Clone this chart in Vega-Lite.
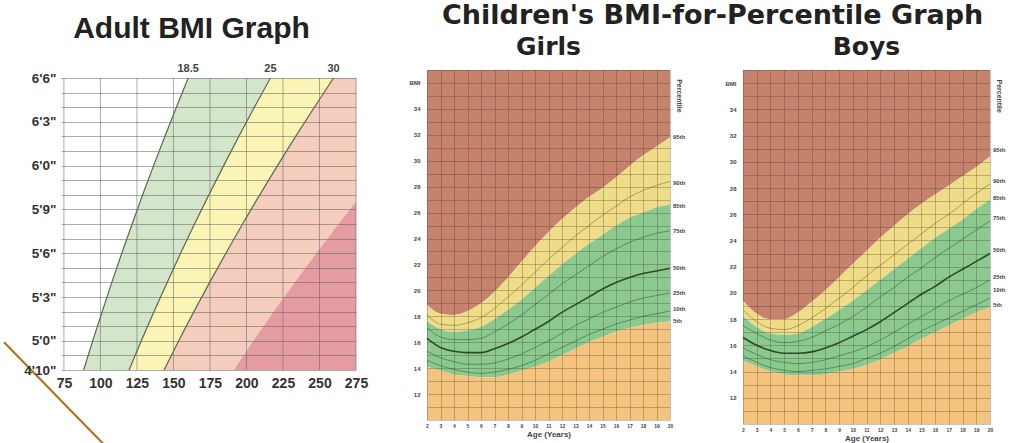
{
  "$schema": "https://vega.github.io/schema/vega-lite/v6.json",
  "background": "white",
  "padding": {"left": 0, "top": 2, "right": 0, "bottom": 0},
  "config": {
    "view": {"stroke": null},
    "axis": {"labelFont": "Liberation Sans", "titleFont": "Liberation Sans"},
    "title": {"color": "#222"}
  },
  "datasets": {
    "adult": [
      {"h": 58, "b185": 88.5, "b25": 119.6, "b30": 143.6, "b40": 191.4},
      {"h": 60, "b185": 94.7, "b25": 128.0, "b30": 153.6, "b40": 204.8},
      {"h": 62, "b185": 101.2, "b25": 136.7, "b30": 164.0, "b40": 218.7},
      {"h": 64, "b185": 107.8, "b25": 145.7, "b30": 174.8, "b40": 233.1},
      {"h": 66, "b185": 114.6, "b25": 154.9, "b30": 185.9, "b40": 247.9},
      {"h": 68, "b185": 121.7, "b25": 164.4, "b30": 197.3, "b40": 263.1},
      {"h": 69.5, "b185": 127.1, "b25": 171.8, "b30": 206.1, "b40": 275},
      {"h": 70, "b185": 128.9, "b25": 174.3, "b30": 209.1, "b40": 275},
      {"h": 72, "b185": 136.4, "b25": 184.4, "b30": 221.2, "b40": 275},
      {"h": 74, "b185": 144.1, "b25": 194.7, "b30": 233.7, "b40": 275},
      {"h": 76, "b185": 152.0, "b25": 205.4, "b30": 246.5, "b40": 275},
      {"h": 78, "b185": 160.1, "b25": 216.4, "b30": 259.6, "b40": 275}
    ],
    "girls": [
      {"age": 2, "p5": 14.1, "p10": 14.6, "p25": 15.3, "p50": 16.3, "p75": 17.1, "p85": 17.6, "p90": 18.1, "p95": 18.9},
      {"age": 3, "p5": 13.8, "p10": 14.2, "p25": 14.8, "p50": 15.6, "p75": 16.4, "p85": 17.0, "p90": 17.4, "p95": 18.2},
      {"age": 4, "p5": 13.5, "p10": 13.9, "p25": 14.5, "p50": 15.3, "p75": 16.2, "p85": 16.8, "p90": 17.3, "p95": 18.1},
      {"age": 5, "p5": 13.4, "p10": 13.7, "p25": 14.3, "p50": 15.2, "p75": 16.2, "p85": 16.9, "p90": 17.5, "p95": 18.4},
      {"age": 6, "p5": 13.3, "p10": 13.6, "p25": 14.3, "p50": 15.2, "p75": 16.3, "p85": 17.2, "p90": 17.9, "p95": 19.0},
      {"age": 7, "p5": 13.3, "p10": 13.7, "p25": 14.4, "p50": 15.5, "p75": 16.8, "p85": 17.8, "p90": 18.6, "p95": 19.9},
      {"age": 8, "p5": 13.5, "p10": 13.9, "p25": 14.7, "p50": 15.9, "p75": 17.4, "p85": 18.5, "p90": 19.5, "p95": 21.0},
      {"age": 9, "p5": 13.8, "p10": 14.2, "p25": 15.1, "p50": 16.4, "p75": 18.1, "p85": 19.3, "p90": 20.4, "p95": 22.2},
      {"age": 10, "p5": 14.1, "p10": 14.6, "p25": 15.6, "p50": 17.0, "p75": 18.9, "p85": 20.2, "p90": 21.4, "p95": 23.4},
      {"age": 11, "p5": 14.5, "p10": 15.1, "p25": 16.1, "p50": 17.6, "p75": 19.7, "p85": 21.1, "p90": 22.4, "p95": 24.5},
      {"age": 12, "p5": 15.0, "p10": 15.6, "p25": 16.7, "p50": 18.3, "p75": 20.5, "p85": 22.0, "p90": 23.3, "p95": 25.5},
      {"age": 13, "p5": 15.5, "p10": 16.1, "p25": 17.3, "p50": 18.9, "p75": 21.2, "p85": 22.8, "p90": 24.2, "p95": 26.4},
      {"age": 14, "p5": 16.0, "p10": 16.6, "p25": 17.8, "p50": 19.5, "p75": 21.9, "p85": 23.6, "p90": 25.0, "p95": 27.2},
      {"age": 15, "p5": 16.4, "p10": 17.0, "p25": 18.3, "p50": 20.1, "p75": 22.6, "p85": 24.3, "p90": 25.8, "p95": 27.9},
      {"age": 16, "p5": 16.8, "p10": 17.4, "p25": 18.7, "p50": 20.6, "p75": 23.2, "p85": 25.0, "p90": 26.5, "p95": 28.7},
      {"age": 17, "p5": 17.1, "p10": 17.7, "p25": 19.1, "p50": 21.0, "p75": 23.7, "p85": 25.6, "p90": 27.2, "p95": 29.6},
      {"age": 18, "p5": 17.3, "p10": 18.0, "p25": 19.4, "p50": 21.3, "p75": 24.1, "p85": 26.0, "p90": 27.7, "p95": 30.4},
      {"age": 19, "p5": 17.5, "p10": 18.2, "p25": 19.6, "p50": 21.5, "p75": 24.4, "p85": 26.4, "p90": 28.1, "p95": 31.1},
      {"age": 20, "p5": 17.6, "p10": 18.4, "p25": 19.8, "p50": 21.7, "p75": 24.6, "p85": 26.6, "p90": 28.4, "p95": 31.8}
    ],
    "boys": [
      {"age": 2, "p5": 14.8, "p10": 15.2, "p25": 15.8, "p50": 16.6, "p75": 17.5, "p85": 18.2, "p90": 18.7, "p95": 19.4},
      {"age": 3, "p5": 14.4, "p10": 14.7, "p25": 15.3, "p50": 16.0, "p75": 16.9, "p85": 17.4, "p90": 17.8, "p95": 18.4},
      {"age": 4, "p5": 14.0, "p10": 14.3, "p25": 14.9, "p50": 15.6, "p75": 16.4, "p85": 16.9, "p90": 17.3, "p95": 18.0},
      {"age": 5, "p5": 13.8, "p10": 14.1, "p25": 14.7, "p50": 15.4, "p75": 16.2, "p85": 16.8, "p90": 17.2, "p95": 18.0},
      {"age": 6, "p5": 13.7, "p10": 14.0, "p25": 14.6, "p50": 15.4, "p75": 16.3, "p85": 16.9, "p90": 17.5, "p95": 18.5},
      {"age": 7, "p5": 13.7, "p10": 14.1, "p25": 14.7, "p50": 15.5, "p75": 16.6, "p85": 17.4, "p90": 18.1, "p95": 19.3},
      {"age": 8, "p5": 13.8, "p10": 14.2, "p25": 14.9, "p50": 15.8, "p75": 17.1, "p85": 18.0, "p90": 18.8, "p95": 20.2},
      {"age": 9, "p5": 14.0, "p10": 14.4, "p25": 15.2, "p50": 16.2, "p75": 17.6, "p85": 18.7, "p90": 19.6, "p95": 21.2},
      {"age": 10, "p5": 14.2, "p10": 14.6, "p25": 15.5, "p50": 16.7, "p75": 18.2, "p85": 19.4, "p90": 20.4, "p95": 22.2},
      {"age": 11, "p5": 14.5, "p10": 15.0, "p25": 15.9, "p50": 17.2, "p75": 18.9, "p85": 20.2, "p90": 21.3, "p95": 23.2},
      {"age": 12, "p5": 14.9, "p10": 15.4, "p25": 16.4, "p50": 17.8, "p75": 19.7, "p85": 21.0, "p90": 22.1, "p95": 24.2},
      {"age": 13, "p5": 15.4, "p10": 15.9, "p25": 17.0, "p50": 18.5, "p75": 20.4, "p85": 21.8, "p90": 22.9, "p95": 25.1},
      {"age": 14, "p5": 15.9, "p10": 16.5, "p25": 17.6, "p50": 19.2, "p75": 21.2, "p85": 22.6, "p90": 23.7, "p95": 26.0},
      {"age": 15, "p5": 16.5, "p10": 17.1, "p25": 18.2, "p50": 19.9, "p75": 21.9, "p85": 23.4, "p90": 24.5, "p95": 26.8},
      {"age": 16, "p5": 17.0, "p10": 17.6, "p25": 18.8, "p50": 20.5, "p75": 22.7, "p85": 24.2, "p90": 25.3, "p95": 27.5},
      {"age": 17, "p5": 17.5, "p10": 18.1, "p25": 19.4, "p50": 21.2, "p75": 23.4, "p85": 24.9, "p90": 26.0, "p95": 28.2},
      {"age": 18, "p5": 18.0, "p10": 18.6, "p25": 19.9, "p50": 21.8, "p75": 24.1, "p85": 25.6, "p90": 26.8, "p95": 28.9},
      {"age": 19, "p5": 18.5, "p10": 19.1, "p25": 20.4, "p50": 22.4, "p75": 24.8, "p85": 26.4, "p90": 27.6, "p95": 29.6},
      {"age": 20, "p5": 18.9, "p10": 19.6, "p25": 21.0, "p50": 23.0, "p75": 25.5, "p85": 27.1, "p90": 28.3, "p95": 30.4}
    ]
  },
  "spacing": 41,
  "hconcat": [
    {
      "title": {"text": "Adult BMI Graph", "font": "Liberation Sans", "fontSize": 30, "fontWeight": "bold", "offset": 19, "dx": -17},
      "width": 295,
      "height": 300,
      "data": {"name": "adult"},
      "layer": [
        {
          "mark": {"type": "area", "orient": "horizontal", "color": "#d3e6c9"},
          "encoding": {
            "y": {"field": "h", "type": "quantitative", "scale": {"domain": [58, 78.55], "nice": false, "zero": false},
              "axis": {"values": [58, 59, 60, 61, 62, 63, 64, 65, 66, 67, 68, 69, 70, 71, 72, 73, 74, 75, 76, 77, 78], "labelExpr": "indexof([58,60,63,66,69,72,75,78], datum.value) >= 0 ? floor(datum.value / 12) + \"'\" + (datum.value % 12) + '\"' : ''", "title": null, "labelFontSize": 13.5, "labelFontWeight": "bold", "labelColor": "#333", "labelPadding": 5, "ticks": false, "domain": false, "gridColor": "#666", "gridOpacity": 0.55, "zindex": 1, "labelOverlap": false, "labelFlush": false}},
            "x": {"field": "b185", "type": "quantitative", "scale": {"domain": [73, 275], "nice": false, "zero": false},
              "axis": {"values": [75, 100, 125, 150, 175, 200, 225, 250, 275], "title": null, "labelFontSize": 14, "labelFontWeight": "bold", "labelColor": "#333", "labelPadding": 6, "ticks": false, "domain": false, "grid": false, "labelOverlap": false, "labelFlush": false}},
            "x2": {"field": "b25"}
          }
        },
        {
          "mark": {"type": "area", "orient": "horizontal", "color": "#faf5b4"},
          "encoding": {
            "y": {"field": "h", "type": "quantitative", "scale": {"domain": [58, 78.55], "nice": false, "zero": false},
              "axis": {"values": [58, 59, 60, 61, 62, 63, 64, 65, 66, 67, 68, 69, 70, 71, 72, 73, 74, 75, 76, 77, 78], "labelExpr": "indexof([58,60,63,66,69,72,75,78], datum.value) >= 0 ? floor(datum.value / 12) + \"'\" + (datum.value % 12) + '\"' : ''", "title": null, "labelFontSize": 13.5, "labelFontWeight": "bold", "labelColor": "#333", "labelPadding": 5, "ticks": false, "domain": false, "gridColor": "#666", "gridOpacity": 0.55, "zindex": 1, "labelOverlap": false, "labelFlush": false}},
            "x": {"field": "b25", "type": "quantitative", "scale": {"domain": [73, 275], "nice": false, "zero": false},
              "axis": {"values": [75, 100, 125, 150, 175, 200, 225, 250, 275], "title": null, "labelFontSize": 14, "labelFontWeight": "bold", "labelColor": "#333", "labelPadding": 6, "ticks": false, "domain": false, "grid": false, "labelOverlap": false, "labelFlush": false}},
            "x2": {"field": "b30"}
          }
        },
        {
          "mark": {"type": "area", "orient": "horizontal", "color": "#f4cdbd"},
          "encoding": {
            "y": {"field": "h", "type": "quantitative", "scale": {"domain": [58, 78.55], "nice": false, "zero": false},
              "axis": {"values": [58, 59, 60, 61, 62, 63, 64, 65, 66, 67, 68, 69, 70, 71, 72, 73, 74, 75, 76, 77, 78], "labelExpr": "indexof([58,60,63,66,69,72,75,78], datum.value) >= 0 ? floor(datum.value / 12) + \"'\" + (datum.value % 12) + '\"' : ''", "title": null, "labelFontSize": 13.5, "labelFontWeight": "bold", "labelColor": "#333", "labelPadding": 5, "ticks": false, "domain": false, "gridColor": "#666", "gridOpacity": 0.55, "zindex": 1, "labelOverlap": false, "labelFlush": false}},
            "x": {"field": "b30", "type": "quantitative", "scale": {"domain": [73, 275], "nice": false, "zero": false},
              "axis": {"values": [75, 100, 125, 150, 175, 200, 225, 250, 275], "title": null, "labelFontSize": 14, "labelFontWeight": "bold", "labelColor": "#333", "labelPadding": 6, "ticks": false, "domain": false, "grid": false, "labelOverlap": false, "labelFlush": false}},
            "x2": {"datum": 275}
          }
        },
        {
          "mark": {"type": "area", "orient": "horizontal", "color": "#e59ba2"},
          "encoding": {
            "y": {"field": "h", "type": "quantitative", "scale": {"domain": [58, 78.55], "nice": false, "zero": false},
              "axis": {"values": [58, 59, 60, 61, 62, 63, 64, 65, 66, 67, 68, 69, 70, 71, 72, 73, 74, 75, 76, 77, 78], "labelExpr": "indexof([58,60,63,66,69,72,75,78], datum.value) >= 0 ? floor(datum.value / 12) + \"'\" + (datum.value % 12) + '\"' : ''", "title": null, "labelFontSize": 13.5, "labelFontWeight": "bold", "labelColor": "#333", "labelPadding": 5, "ticks": false, "domain": false, "gridColor": "#666", "gridOpacity": 0.55, "zindex": 1, "labelOverlap": false, "labelFlush": false}},
            "x": {"field": "b40", "type": "quantitative", "scale": {"domain": [73, 275], "nice": false, "zero": false},
              "axis": {"values": [75, 100, 125, 150, 175, 200, 225, 250, 275], "title": null, "labelFontSize": 14, "labelFontWeight": "bold", "labelColor": "#333", "labelPadding": 6, "ticks": false, "domain": false, "grid": false, "labelOverlap": false, "labelFlush": false}},
            "x2": {"datum": 275}
          }
        },
        {
          "data": {"values": [{"w": 75}, {"w": 100}, {"w": 125}, {"w": 150}, {"w": 175}, {"w": 200}, {"w": 225}, {"w": 250}, {"w": 275}]},
          "mark": {"type": "rule", "color": "#666", "opacity": 0.55, "strokeWidth": 1},
          "encoding": {
            "x": {"field": "w", "type": "quantitative", "scale": {"domain": [73, 275], "nice": false, "zero": false},
              "axis": {"values": [75, 100, 125, 150, 175, 200, 225, 250, 275], "title": null, "labelFontSize": 14, "labelFontWeight": "bold", "labelColor": "#333", "labelPadding": 6, "ticks": false, "domain": false, "grid": false, "labelOverlap": false, "labelFlush": false}},
            "y": {"datum": 58, "type": "quantitative", "scale": {"domain": [58, 78.55], "nice": false, "zero": false},
              "axis": {"values": [58, 59, 60, 61, 62, 63, 64, 65, 66, 67, 68, 69, 70, 71, 72, 73, 74, 75, 76, 77, 78], "labelExpr": "indexof([58,60,63,66,69,72,75,78], datum.value) >= 0 ? floor(datum.value / 12) + \"'\" + (datum.value % 12) + '\"' : ''", "title": null, "labelFontSize": 13.5, "labelFontWeight": "bold", "labelColor": "#333", "labelPadding": 5, "ticks": false, "domain": false, "gridColor": "#666", "gridOpacity": 0.55, "zindex": 1, "labelOverlap": false, "labelFlush": false}},
            "y2": {"datum": 78}
          }
        },
        {
          "transform": [{"fold": ["b185", "b25", "b30"], "as": ["bmi", "w"]}],
          "mark": {"type": "line", "color": "#5f6650", "strokeWidth": 1.2},
          "encoding": {
            "y": {"field": "h", "type": "quantitative", "scale": {"domain": [58, 78.55], "nice": false, "zero": false},
              "axis": {"values": [58, 59, 60, 61, 62, 63, 64, 65, 66, 67, 68, 69, 70, 71, 72, 73, 74, 75, 76, 77, 78], "labelExpr": "indexof([58,60,63,66,69,72,75,78], datum.value) >= 0 ? floor(datum.value / 12) + \"'\" + (datum.value % 12) + '\"' : ''", "title": null, "labelFontSize": 13.5, "labelFontWeight": "bold", "labelColor": "#333", "labelPadding": 5, "ticks": false, "domain": false, "gridColor": "#666", "gridOpacity": 0.55, "zindex": 1, "labelOverlap": false, "labelFlush": false}},
            "x": {"field": "w", "type": "quantitative", "scale": {"domain": [73, 275], "nice": false, "zero": false},
              "axis": {"values": [75, 100, 125, 150, 175, 200, 225, 250, 275], "title": null, "labelFontSize": 14, "labelFontWeight": "bold", "labelColor": "#333", "labelPadding": 6, "ticks": false, "domain": false, "grid": false, "labelOverlap": false, "labelFlush": false}},
            "detail": {"field": "bmi"},
            "order": {"field": "h"}
          }
        },
        {
          "data": {"values": [{"label": "18.5", "w": 160.1}, {"label": "25", "w": 216.4}, {"label": "30", "w": 259.6}]},
          "mark": {"type": "text", "baseline": "bottom", "dy": -4, "fontSize": 11, "fontWeight": "bold", "color": "#444", "font": "Liberation Sans"},
          "encoding": {
            "y": {"datum": 78, "type": "quantitative", "scale": {"domain": [58, 78.55], "nice": false, "zero": false},
              "axis": {"values": [58, 59, 60, 61, 62, 63, 64, 65, 66, 67, 68, 69, 70, 71, 72, 73, 74, 75, 76, 77, 78], "labelExpr": "indexof([58,60,63,66,69,72,75,78], datum.value) >= 0 ? floor(datum.value / 12) + \"'\" + (datum.value % 12) + '\"' : ''", "title": null, "labelFontSize": 13.5, "labelFontWeight": "bold", "labelColor": "#333", "labelPadding": 5, "ticks": false, "domain": false, "gridColor": "#666", "gridOpacity": 0.55, "zindex": 1, "labelOverlap": false, "labelFlush": false}},
            "x": {"field": "w", "type": "quantitative", "scale": {"domain": [73, 275], "nice": false, "zero": false},
              "axis": {"values": [75, 100, 125, 150, 175, 200, 225, 250, 275], "title": null, "labelFontSize": 14, "labelFontWeight": "bold", "labelColor": "#333", "labelPadding": 6, "ticks": false, "domain": false, "grid": false, "labelOverlap": false, "labelFlush": false}},
            "text": {"field": "label"}
          }
        },
        {
          "data": {"values": [{"w": 34.0, "h": 59.9}, {"w": 102.4, "h": 52.9}]},
          "mark": {"type": "line", "color": "#b46e14", "strokeWidth": 2},
          "encoding": {
            "y": {"field": "h", "type": "quantitative", "scale": {"domain": [58, 78.55], "nice": false, "zero": false},
              "axis": {"values": [58, 59, 60, 61, 62, 63, 64, 65, 66, 67, 68, 69, 70, 71, 72, 73, 74, 75, 76, 77, 78], "labelExpr": "indexof([58,60,63,66,69,72,75,78], datum.value) >= 0 ? floor(datum.value / 12) + \"'\" + (datum.value % 12) + '\"' : ''", "title": null, "labelFontSize": 13.5, "labelFontWeight": "bold", "labelColor": "#333", "labelPadding": 5, "ticks": false, "domain": false, "gridColor": "#666", "gridOpacity": 0.55, "zindex": 1, "labelOverlap": false, "labelFlush": false}},
            "x": {"field": "w", "type": "quantitative", "scale": {"domain": [73, 275], "nice": false, "zero": false},
              "axis": {"values": [75, 100, 125, 150, 175, 200, 225, 250, 275], "title": null, "labelFontSize": 14, "labelFontWeight": "bold", "labelColor": "#333", "labelPadding": 6, "ticks": false, "domain": false, "grid": false, "labelOverlap": false, "labelFlush": false}}
          }
        }
      ]
    },
    {
      "title": {"text": "Children's BMI-for-Percentile Graph", "font": "DejaVu Sans", "fontSize": 27, "fontWeight": "bold", "offset": 5, "dx": 33},
      "spacing": 39,
      "hconcat": [
        {
          "title": {"text": "Girls", "font": "DejaVu Sans", "fontSize": 25, "fontWeight": "bold", "offset": 7},
          "width": 243,
          "height": 350,
          "data": {"name": "girls"},
          "layer": [
            {
              "mark": {"type": "area", "color": "#c5826d", "interpolate": "monotone"},
              "encoding": {
                "x": {"field": "age", "type": "quantitative", "scale": {"domain": [2, 20], "nice": false, "zero": false},
                  "axis": {"values": [2, 3, 4, 5, 6, 7, 8, 9, 10, 11, 12, 13, 14, 15, 16, 17, 18, 19, 20], "title": "Age (Years)", "labelFontSize": 5, "labelFontWeight": "bold", "labelColor": "#444", "labelPadding": 3, "ticks": false, "domain": false, "titleFontSize": 8, "titleFontWeight": "bold", "titleColor": "#444", "titlePadding": 2, "gridColor": "#3d2a1a", "gridOpacity": 0.28, "zindex": 1, "labelOverlap": false, "labelFlush": false}},
                "y": {"field": "p95", "type": "quantitative", "scale": {"domain": [10, 37], "nice": false, "zero": false},
                  "axis": {"values": [10, 11, 12, 13, 14, 15, 16, 17, 18, 19, 20, 21, 22, 23, 24, 25, 26, 27, 28, 29, 30, 31, 32, 33, 34, 35, 36, 37], "labelExpr": "datum.value == 36 ? 'BMI' : (datum.value >= 12 && datum.value <= 34 && datum.value % 2 == 0 ? datum.label : '')", "title": null, "labelFontSize": 6, "labelFontWeight": "bold", "labelColor": "#444", "labelPadding": 7, "ticks": false, "domain": false, "gridColor": "#3d2a1a", "gridOpacity": 0.28, "zindex": 1, "labelOverlap": false, "labelFlush": false}},
                "y2": {"datum": 37}
              }
            },
            {
              "mark": {"type": "area", "color": "#eedc88", "interpolate": "monotone"},
              "encoding": {
                "x": {"field": "age", "type": "quantitative", "scale": {"domain": [2, 20], "nice": false, "zero": false},
                  "axis": {"values": [2, 3, 4, 5, 6, 7, 8, 9, 10, 11, 12, 13, 14, 15, 16, 17, 18, 19, 20], "title": "Age (Years)", "labelFontSize": 5, "labelFontWeight": "bold", "labelColor": "#444", "labelPadding": 3, "ticks": false, "domain": false, "titleFontSize": 8, "titleFontWeight": "bold", "titleColor": "#444", "titlePadding": 2, "gridColor": "#3d2a1a", "gridOpacity": 0.28, "zindex": 1, "labelOverlap": false, "labelFlush": false}},
                "y": {"field": "p85", "type": "quantitative", "scale": {"domain": [10, 37], "nice": false, "zero": false},
                  "axis": {"values": [10, 11, 12, 13, 14, 15, 16, 17, 18, 19, 20, 21, 22, 23, 24, 25, 26, 27, 28, 29, 30, 31, 32, 33, 34, 35, 36, 37], "labelExpr": "datum.value == 36 ? 'BMI' : (datum.value >= 12 && datum.value <= 34 && datum.value % 2 == 0 ? datum.label : '')", "title": null, "labelFontSize": 6, "labelFontWeight": "bold", "labelColor": "#444", "labelPadding": 7, "ticks": false, "domain": false, "gridColor": "#3d2a1a", "gridOpacity": 0.28, "zindex": 1, "labelOverlap": false, "labelFlush": false}},
                "y2": {"field": "p95"}
              }
            },
            {
              "mark": {"type": "area", "color": "#8cc98f", "interpolate": "monotone"},
              "encoding": {
                "x": {"field": "age", "type": "quantitative", "scale": {"domain": [2, 20], "nice": false, "zero": false},
                  "axis": {"values": [2, 3, 4, 5, 6, 7, 8, 9, 10, 11, 12, 13, 14, 15, 16, 17, 18, 19, 20], "title": "Age (Years)", "labelFontSize": 5, "labelFontWeight": "bold", "labelColor": "#444", "labelPadding": 3, "ticks": false, "domain": false, "titleFontSize": 8, "titleFontWeight": "bold", "titleColor": "#444", "titlePadding": 2, "gridColor": "#3d2a1a", "gridOpacity": 0.28, "zindex": 1, "labelOverlap": false, "labelFlush": false}},
                "y": {"field": "p5", "type": "quantitative", "scale": {"domain": [10, 37], "nice": false, "zero": false},
                  "axis": {"values": [10, 11, 12, 13, 14, 15, 16, 17, 18, 19, 20, 21, 22, 23, 24, 25, 26, 27, 28, 29, 30, 31, 32, 33, 34, 35, 36, 37], "labelExpr": "datum.value == 36 ? 'BMI' : (datum.value >= 12 && datum.value <= 34 && datum.value % 2 == 0 ? datum.label : '')", "title": null, "labelFontSize": 6, "labelFontWeight": "bold", "labelColor": "#444", "labelPadding": 7, "ticks": false, "domain": false, "gridColor": "#3d2a1a", "gridOpacity": 0.28, "zindex": 1, "labelOverlap": false, "labelFlush": false}},
                "y2": {"field": "p85"}
              }
            },
            {
              "mark": {"type": "area", "color": "#f4c47f", "interpolate": "monotone"},
              "encoding": {
                "x": {"field": "age", "type": "quantitative", "scale": {"domain": [2, 20], "nice": false, "zero": false},
                  "axis": {"values": [2, 3, 4, 5, 6, 7, 8, 9, 10, 11, 12, 13, 14, 15, 16, 17, 18, 19, 20], "title": "Age (Years)", "labelFontSize": 5, "labelFontWeight": "bold", "labelColor": "#444", "labelPadding": 3, "ticks": false, "domain": false, "titleFontSize": 8, "titleFontWeight": "bold", "titleColor": "#444", "titlePadding": 2, "gridColor": "#3d2a1a", "gridOpacity": 0.28, "zindex": 1, "labelOverlap": false, "labelFlush": false}},
                "y": {"field": "p5", "type": "quantitative", "scale": {"domain": [10, 37], "nice": false, "zero": false},
                  "axis": {"values": [10, 11, 12, 13, 14, 15, 16, 17, 18, 19, 20, 21, 22, 23, 24, 25, 26, 27, 28, 29, 30, 31, 32, 33, 34, 35, 36, 37], "labelExpr": "datum.value == 36 ? 'BMI' : (datum.value >= 12 && datum.value <= 34 && datum.value % 2 == 0 ? datum.label : '')", "title": null, "labelFontSize": 6, "labelFontWeight": "bold", "labelColor": "#444", "labelPadding": 7, "ticks": false, "domain": false, "gridColor": "#3d2a1a", "gridOpacity": 0.28, "zindex": 1, "labelOverlap": false, "labelFlush": false}},
                "y2": {"datum": 10}
              }
            },
            {
              "transform": [{"fold": ["p10", "p25", "p75", "p90"], "as": ["pct", "bmi"]}],
              "mark": {"type": "line", "strokeWidth": 0.9, "interpolate": "monotone"},
              "encoding": {
                "x": {"field": "age", "type": "quantitative", "scale": {"domain": [2, 20], "nice": false, "zero": false},
                  "axis": {"values": [2, 3, 4, 5, 6, 7, 8, 9, 10, 11, 12, 13, 14, 15, 16, 17, 18, 19, 20], "title": "Age (Years)", "labelFontSize": 5, "labelFontWeight": "bold", "labelColor": "#444", "labelPadding": 3, "ticks": false, "domain": false, "titleFontSize": 8, "titleFontWeight": "bold", "titleColor": "#444", "titlePadding": 2, "gridColor": "#3d2a1a", "gridOpacity": 0.28, "zindex": 1, "labelOverlap": false, "labelFlush": false}},
                "y": {"field": "bmi", "type": "quantitative", "scale": {"domain": [10, 37], "nice": false, "zero": false},
                  "axis": {"values": [10, 11, 12, 13, 14, 15, 16, 17, 18, 19, 20, 21, 22, 23, 24, 25, 26, 27, 28, 29, 30, 31, 32, 33, 34, 35, 36, 37], "labelExpr": "datum.value == 36 ? 'BMI' : (datum.value >= 12 && datum.value <= 34 && datum.value % 2 == 0 ? datum.label : '')", "title": null, "labelFontSize": 6, "labelFontWeight": "bold", "labelColor": "#444", "labelPadding": 7, "ticks": false, "domain": false, "gridColor": "#3d2a1a", "gridOpacity": 0.28, "zindex": 1, "labelOverlap": false, "labelFlush": false}},
                "color": {"field": "pct", "type": "nominal", "legend": null,
                  "scale": {"domain": ["p10", "p25", "p75", "p90"], "range": ["#4c8a55", "#4c8a55", "#4c8a55", "#a39a4a"]}}
              }
            },
            {
              "mark": {"type": "line", "strokeWidth": 1.6, "color": "#2a4b2e", "interpolate": "monotone"},
              "encoding": {
                "x": {"field": "age", "type": "quantitative", "scale": {"domain": [2, 20], "nice": false, "zero": false},
                  "axis": {"values": [2, 3, 4, 5, 6, 7, 8, 9, 10, 11, 12, 13, 14, 15, 16, 17, 18, 19, 20], "title": "Age (Years)", "labelFontSize": 5, "labelFontWeight": "bold", "labelColor": "#444", "labelPadding": 3, "ticks": false, "domain": false, "titleFontSize": 8, "titleFontWeight": "bold", "titleColor": "#444", "titlePadding": 2, "gridColor": "#3d2a1a", "gridOpacity": 0.28, "zindex": 1, "labelOverlap": false, "labelFlush": false}},
                "y": {"field": "p50", "type": "quantitative", "scale": {"domain": [10, 37], "nice": false, "zero": false},
                  "axis": {"values": [10, 11, 12, 13, 14, 15, 16, 17, 18, 19, 20, 21, 22, 23, 24, 25, 26, 27, 28, 29, 30, 31, 32, 33, 34, 35, 36, 37], "labelExpr": "datum.value == 36 ? 'BMI' : (datum.value >= 12 && datum.value <= 34 && datum.value % 2 == 0 ? datum.label : '')", "title": null, "labelFontSize": 6, "labelFontWeight": "bold", "labelColor": "#444", "labelPadding": 7, "ticks": false, "domain": false, "gridColor": "#3d2a1a", "gridOpacity": 0.28, "zindex": 1, "labelOverlap": false, "labelFlush": false}}
              }
            },
            {
              "data": {"values": [
                {"label": "95th", "bmi": 31.8}, {"label": "90th", "bmi": 28.3}, {"label": "85th", "bmi": 26.5},
                {"label": "75th", "bmi": 24.6}, {"label": "50th", "bmi": 21.7}, {"label": "25th", "bmi": 19.8},
                {"label": "10th", "bmi": 18.6}, {"label": "5th", "bmi": 17.6}]},
              "mark": {"type": "text", "align": "left", "dx": 3, "fontSize": 6, "fontWeight": "bold", "color": "#444", "font": "Liberation Sans"},
              "encoding": {
                "x": {"datum": 20, "type": "quantitative", "scale": {"domain": [2, 20], "nice": false, "zero": false},
                  "axis": {"values": [2, 3, 4, 5, 6, 7, 8, 9, 10, 11, 12, 13, 14, 15, 16, 17, 18, 19, 20], "title": "Age (Years)", "labelFontSize": 5, "labelFontWeight": "bold", "labelColor": "#444", "labelPadding": 3, "ticks": false, "domain": false, "titleFontSize": 8, "titleFontWeight": "bold", "titleColor": "#444", "titlePadding": 2, "gridColor": "#3d2a1a", "gridOpacity": 0.28, "zindex": 1, "labelOverlap": false, "labelFlush": false}},
                "y": {"field": "bmi", "type": "quantitative", "scale": {"domain": [10, 37], "nice": false, "zero": false},
                  "axis": {"values": [10, 11, 12, 13, 14, 15, 16, 17, 18, 19, 20, 21, 22, 23, 24, 25, 26, 27, 28, 29, 30, 31, 32, 33, 34, 35, 36, 37], "labelExpr": "datum.value == 36 ? 'BMI' : (datum.value >= 12 && datum.value <= 34 && datum.value % 2 == 0 ? datum.label : '')", "title": null, "labelFontSize": 6, "labelFontWeight": "bold", "labelColor": "#444", "labelPadding": 7, "ticks": false, "domain": false, "gridColor": "#3d2a1a", "gridOpacity": 0.28, "zindex": 1, "labelOverlap": false, "labelFlush": false}},
                "text": {"field": "label"}
              }
            },
            {
              "data": {"values": [{"t": "Percentile"}]},
              "mark": {"type": "text", "angle": 90, "baseline": "bottom", "dy": -6, "fontSize": 7, "fontWeight": "bold", "color": "#444", "font": "Liberation Sans"},
              "encoding": {
                "x": {"datum": 20, "type": "quantitative", "scale": {"domain": [2, 20], "nice": false, "zero": false},
                  "axis": {"values": [2, 3, 4, 5, 6, 7, 8, 9, 10, 11, 12, 13, 14, 15, 16, 17, 18, 19, 20], "title": "Age (Years)", "labelFontSize": 5, "labelFontWeight": "bold", "labelColor": "#444", "labelPadding": 3, "ticks": false, "domain": false, "titleFontSize": 8, "titleFontWeight": "bold", "titleColor": "#444", "titlePadding": 2, "gridColor": "#3d2a1a", "gridOpacity": 0.28, "zindex": 1, "labelOverlap": false, "labelFlush": false}},
                "y": {"datum": 35, "type": "quantitative", "scale": {"domain": [10, 37], "nice": false, "zero": false},
                  "axis": {"values": [10, 11, 12, 13, 14, 15, 16, 17, 18, 19, 20, 21, 22, 23, 24, 25, 26, 27, 28, 29, 30, 31, 32, 33, 34, 35, 36, 37], "labelExpr": "datum.value == 36 ? 'BMI' : (datum.value >= 12 && datum.value <= 34 && datum.value % 2 == 0 ? datum.label : '')", "title": null, "labelFontSize": 6, "labelFontWeight": "bold", "labelColor": "#444", "labelPadding": 7, "ticks": false, "domain": false, "gridColor": "#3d2a1a", "gridOpacity": 0.28, "zindex": 1, "labelOverlap": false, "labelFlush": false}},
                "text": {"field": "t"}
              }
            }
          ]
        },
        {
          "title": {"text": "Boys", "font": "DejaVu Sans", "fontSize": 25, "fontWeight": "bold", "offset": 7},
          "width": 247,
          "height": 354,
          "data": {"name": "boys"},
          "layer": [
            {
              "mark": {"type": "area", "color": "#c5826d", "interpolate": "monotone"},
              "encoding": {
                "x": {"field": "age", "type": "quantitative", "scale": {"domain": [2, 20], "nice": false, "zero": false},
                  "axis": {"values": [2, 3, 4, 5, 6, 7, 8, 9, 10, 11, 12, 13, 14, 15, 16, 17, 18, 19, 20], "title": "Age (Years)", "labelFontSize": 5, "labelFontWeight": "bold", "labelColor": "#444", "labelPadding": 3, "ticks": false, "domain": false, "titleFontSize": 8, "titleFontWeight": "bold", "titleColor": "#444", "titlePadding": 2, "gridColor": "#3d2a1a", "gridOpacity": 0.28, "zindex": 1, "labelOverlap": false, "labelFlush": false}},
                "y": {"field": "p95", "type": "quantitative", "scale": {"domain": [10, 37], "nice": false, "zero": false},
                  "axis": {"values": [10, 11, 12, 13, 14, 15, 16, 17, 18, 19, 20, 21, 22, 23, 24, 25, 26, 27, 28, 29, 30, 31, 32, 33, 34, 35, 36, 37], "labelExpr": "datum.value == 36 ? 'BMI' : (datum.value >= 12 && datum.value <= 34 && datum.value % 2 == 0 ? datum.label : '')", "title": null, "labelFontSize": 6, "labelFontWeight": "bold", "labelColor": "#444", "labelPadding": 7, "ticks": false, "domain": false, "gridColor": "#3d2a1a", "gridOpacity": 0.28, "zindex": 1, "labelOverlap": false, "labelFlush": false}},
                "y2": {"datum": 37}
              }
            },
            {
              "mark": {"type": "area", "color": "#eedc88", "interpolate": "monotone"},
              "encoding": {
                "x": {"field": "age", "type": "quantitative", "scale": {"domain": [2, 20], "nice": false, "zero": false},
                  "axis": {"values": [2, 3, 4, 5, 6, 7, 8, 9, 10, 11, 12, 13, 14, 15, 16, 17, 18, 19, 20], "title": "Age (Years)", "labelFontSize": 5, "labelFontWeight": "bold", "labelColor": "#444", "labelPadding": 3, "ticks": false, "domain": false, "titleFontSize": 8, "titleFontWeight": "bold", "titleColor": "#444", "titlePadding": 2, "gridColor": "#3d2a1a", "gridOpacity": 0.28, "zindex": 1, "labelOverlap": false, "labelFlush": false}},
                "y": {"field": "p85", "type": "quantitative", "scale": {"domain": [10, 37], "nice": false, "zero": false},
                  "axis": {"values": [10, 11, 12, 13, 14, 15, 16, 17, 18, 19, 20, 21, 22, 23, 24, 25, 26, 27, 28, 29, 30, 31, 32, 33, 34, 35, 36, 37], "labelExpr": "datum.value == 36 ? 'BMI' : (datum.value >= 12 && datum.value <= 34 && datum.value % 2 == 0 ? datum.label : '')", "title": null, "labelFontSize": 6, "labelFontWeight": "bold", "labelColor": "#444", "labelPadding": 7, "ticks": false, "domain": false, "gridColor": "#3d2a1a", "gridOpacity": 0.28, "zindex": 1, "labelOverlap": false, "labelFlush": false}},
                "y2": {"field": "p95"}
              }
            },
            {
              "mark": {"type": "area", "color": "#8cc98f", "interpolate": "monotone"},
              "encoding": {
                "x": {"field": "age", "type": "quantitative", "scale": {"domain": [2, 20], "nice": false, "zero": false},
                  "axis": {"values": [2, 3, 4, 5, 6, 7, 8, 9, 10, 11, 12, 13, 14, 15, 16, 17, 18, 19, 20], "title": "Age (Years)", "labelFontSize": 5, "labelFontWeight": "bold", "labelColor": "#444", "labelPadding": 3, "ticks": false, "domain": false, "titleFontSize": 8, "titleFontWeight": "bold", "titleColor": "#444", "titlePadding": 2, "gridColor": "#3d2a1a", "gridOpacity": 0.28, "zindex": 1, "labelOverlap": false, "labelFlush": false}},
                "y": {"field": "p5", "type": "quantitative", "scale": {"domain": [10, 37], "nice": false, "zero": false},
                  "axis": {"values": [10, 11, 12, 13, 14, 15, 16, 17, 18, 19, 20, 21, 22, 23, 24, 25, 26, 27, 28, 29, 30, 31, 32, 33, 34, 35, 36, 37], "labelExpr": "datum.value == 36 ? 'BMI' : (datum.value >= 12 && datum.value <= 34 && datum.value % 2 == 0 ? datum.label : '')", "title": null, "labelFontSize": 6, "labelFontWeight": "bold", "labelColor": "#444", "labelPadding": 7, "ticks": false, "domain": false, "gridColor": "#3d2a1a", "gridOpacity": 0.28, "zindex": 1, "labelOverlap": false, "labelFlush": false}},
                "y2": {"field": "p85"}
              }
            },
            {
              "mark": {"type": "area", "color": "#f4c47f", "interpolate": "monotone"},
              "encoding": {
                "x": {"field": "age", "type": "quantitative", "scale": {"domain": [2, 20], "nice": false, "zero": false},
                  "axis": {"values": [2, 3, 4, 5, 6, 7, 8, 9, 10, 11, 12, 13, 14, 15, 16, 17, 18, 19, 20], "title": "Age (Years)", "labelFontSize": 5, "labelFontWeight": "bold", "labelColor": "#444", "labelPadding": 3, "ticks": false, "domain": false, "titleFontSize": 8, "titleFontWeight": "bold", "titleColor": "#444", "titlePadding": 2, "gridColor": "#3d2a1a", "gridOpacity": 0.28, "zindex": 1, "labelOverlap": false, "labelFlush": false}},
                "y": {"field": "p5", "type": "quantitative", "scale": {"domain": [10, 37], "nice": false, "zero": false},
                  "axis": {"values": [10, 11, 12, 13, 14, 15, 16, 17, 18, 19, 20, 21, 22, 23, 24, 25, 26, 27, 28, 29, 30, 31, 32, 33, 34, 35, 36, 37], "labelExpr": "datum.value == 36 ? 'BMI' : (datum.value >= 12 && datum.value <= 34 && datum.value % 2 == 0 ? datum.label : '')", "title": null, "labelFontSize": 6, "labelFontWeight": "bold", "labelColor": "#444", "labelPadding": 7, "ticks": false, "domain": false, "gridColor": "#3d2a1a", "gridOpacity": 0.28, "zindex": 1, "labelOverlap": false, "labelFlush": false}},
                "y2": {"datum": 10}
              }
            },
            {
              "transform": [{"fold": ["p10", "p25", "p75", "p90"], "as": ["pct", "bmi"]}],
              "mark": {"type": "line", "strokeWidth": 0.9, "interpolate": "monotone"},
              "encoding": {
                "x": {"field": "age", "type": "quantitative", "scale": {"domain": [2, 20], "nice": false, "zero": false},
                  "axis": {"values": [2, 3, 4, 5, 6, 7, 8, 9, 10, 11, 12, 13, 14, 15, 16, 17, 18, 19, 20], "title": "Age (Years)", "labelFontSize": 5, "labelFontWeight": "bold", "labelColor": "#444", "labelPadding": 3, "ticks": false, "domain": false, "titleFontSize": 8, "titleFontWeight": "bold", "titleColor": "#444", "titlePadding": 2, "gridColor": "#3d2a1a", "gridOpacity": 0.28, "zindex": 1, "labelOverlap": false, "labelFlush": false}},
                "y": {"field": "bmi", "type": "quantitative", "scale": {"domain": [10, 37], "nice": false, "zero": false},
                  "axis": {"values": [10, 11, 12, 13, 14, 15, 16, 17, 18, 19, 20, 21, 22, 23, 24, 25, 26, 27, 28, 29, 30, 31, 32, 33, 34, 35, 36, 37], "labelExpr": "datum.value == 36 ? 'BMI' : (datum.value >= 12 && datum.value <= 34 && datum.value % 2 == 0 ? datum.label : '')", "title": null, "labelFontSize": 6, "labelFontWeight": "bold", "labelColor": "#444", "labelPadding": 7, "ticks": false, "domain": false, "gridColor": "#3d2a1a", "gridOpacity": 0.28, "zindex": 1, "labelOverlap": false, "labelFlush": false}},
                "color": {"field": "pct", "type": "nominal", "legend": null,
                  "scale": {"domain": ["p10", "p25", "p75", "p90"], "range": ["#4c8a55", "#4c8a55", "#4c8a55", "#a39a4a"]}}
              }
            },
            {
              "mark": {"type": "line", "strokeWidth": 1.6, "color": "#2a4b2e", "interpolate": "monotone"},
              "encoding": {
                "x": {"field": "age", "type": "quantitative", "scale": {"domain": [2, 20], "nice": false, "zero": false},
                  "axis": {"values": [2, 3, 4, 5, 6, 7, 8, 9, 10, 11, 12, 13, 14, 15, 16, 17, 18, 19, 20], "title": "Age (Years)", "labelFontSize": 5, "labelFontWeight": "bold", "labelColor": "#444", "labelPadding": 3, "ticks": false, "domain": false, "titleFontSize": 8, "titleFontWeight": "bold", "titleColor": "#444", "titlePadding": 2, "gridColor": "#3d2a1a", "gridOpacity": 0.28, "zindex": 1, "labelOverlap": false, "labelFlush": false}},
                "y": {"field": "p50", "type": "quantitative", "scale": {"domain": [10, 37], "nice": false, "zero": false},
                  "axis": {"values": [10, 11, 12, 13, 14, 15, 16, 17, 18, 19, 20, 21, 22, 23, 24, 25, 26, 27, 28, 29, 30, 31, 32, 33, 34, 35, 36, 37], "labelExpr": "datum.value == 36 ? 'BMI' : (datum.value >= 12 && datum.value <= 34 && datum.value % 2 == 0 ? datum.label : '')", "title": null, "labelFontSize": 6, "labelFontWeight": "bold", "labelColor": "#444", "labelPadding": 7, "ticks": false, "domain": false, "gridColor": "#3d2a1a", "gridOpacity": 0.28, "zindex": 1, "labelOverlap": false, "labelFlush": false}}
              }
            },
            {
              "data": {"values": [
                {"label": "95th", "bmi": 30.9}, {"label": "90th", "bmi": 28.5}, {"label": "85th", "bmi": 27.2},
                {"label": "75th", "bmi": 25.7}, {"label": "50th", "bmi": 23.3}, {"label": "25th", "bmi": 21.2},
                {"label": "10th", "bmi": 20.2}, {"label": "5th", "bmi": 19.1}]},
              "mark": {"type": "text", "align": "left", "dx": 3, "fontSize": 6, "fontWeight": "bold", "color": "#444", "font": "Liberation Sans"},
              "encoding": {
                "x": {"datum": 20, "type": "quantitative", "scale": {"domain": [2, 20], "nice": false, "zero": false},
                  "axis": {"values": [2, 3, 4, 5, 6, 7, 8, 9, 10, 11, 12, 13, 14, 15, 16, 17, 18, 19, 20], "title": "Age (Years)", "labelFontSize": 5, "labelFontWeight": "bold", "labelColor": "#444", "labelPadding": 3, "ticks": false, "domain": false, "titleFontSize": 8, "titleFontWeight": "bold", "titleColor": "#444", "titlePadding": 2, "gridColor": "#3d2a1a", "gridOpacity": 0.28, "zindex": 1, "labelOverlap": false, "labelFlush": false}},
                "y": {"field": "bmi", "type": "quantitative", "scale": {"domain": [10, 37], "nice": false, "zero": false},
                  "axis": {"values": [10, 11, 12, 13, 14, 15, 16, 17, 18, 19, 20, 21, 22, 23, 24, 25, 26, 27, 28, 29, 30, 31, 32, 33, 34, 35, 36, 37], "labelExpr": "datum.value == 36 ? 'BMI' : (datum.value >= 12 && datum.value <= 34 && datum.value % 2 == 0 ? datum.label : '')", "title": null, "labelFontSize": 6, "labelFontWeight": "bold", "labelColor": "#444", "labelPadding": 7, "ticks": false, "domain": false, "gridColor": "#3d2a1a", "gridOpacity": 0.28, "zindex": 1, "labelOverlap": false, "labelFlush": false}},
                "text": {"field": "label"}
              }
            },
            {
              "data": {"values": [{"t": "Percentile"}]},
              "mark": {"type": "text", "angle": 90, "baseline": "bottom", "dy": -6, "fontSize": 7, "fontWeight": "bold", "color": "#444", "font": "Liberation Sans"},
              "encoding": {
                "x": {"datum": 20, "type": "quantitative", "scale": {"domain": [2, 20], "nice": false, "zero": false},
                  "axis": {"values": [2, 3, 4, 5, 6, 7, 8, 9, 10, 11, 12, 13, 14, 15, 16, 17, 18, 19, 20], "title": "Age (Years)", "labelFontSize": 5, "labelFontWeight": "bold", "labelColor": "#444", "labelPadding": 3, "ticks": false, "domain": false, "titleFontSize": 8, "titleFontWeight": "bold", "titleColor": "#444", "titlePadding": 2, "gridColor": "#3d2a1a", "gridOpacity": 0.28, "zindex": 1, "labelOverlap": false, "labelFlush": false}},
                "y": {"datum": 35, "type": "quantitative", "scale": {"domain": [10, 37], "nice": false, "zero": false},
                  "axis": {"values": [10, 11, 12, 13, 14, 15, 16, 17, 18, 19, 20, 21, 22, 23, 24, 25, 26, 27, 28, 29, 30, 31, 32, 33, 34, 35, 36, 37], "labelExpr": "datum.value == 36 ? 'BMI' : (datum.value >= 12 && datum.value <= 34 && datum.value % 2 == 0 ? datum.label : '')", "title": null, "labelFontSize": 6, "labelFontWeight": "bold", "labelColor": "#444", "labelPadding": 7, "ticks": false, "domain": false, "gridColor": "#3d2a1a", "gridOpacity": 0.28, "zindex": 1, "labelOverlap": false, "labelFlush": false}},
                "text": {"field": "t"}
              }
            }
          ]
        }
      ]
    }
  ]
}
